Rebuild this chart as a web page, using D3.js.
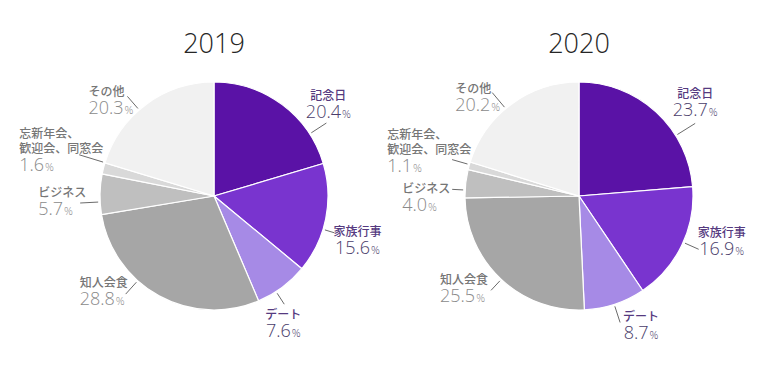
<!DOCTYPE html>
<html>
<head>
<meta charset="utf-8">
<script src="https://cdn.jsdelivr.net/npm/d3@7"></script>
<style>
  body { margin: 0; background: #fff; }
  svg { display: block; font-family: "Noto Sans CJK JP", "Noto Sans", sans-serif; }
  .num { font-family: "Open Sans", "Noto Sans", sans-serif; font-weight: 300; }
</style>
</head>
<body>
<script>
// values (share in %)
const categories = ['記念日', '家族行事', 'デート', '知人会食', 'ビジネス', '忘新年会、歓迎会、同窓会', 'その他']
const categoryLines = [['記念日'], ['家族行事'], ['デート'], ['知人会食'], ['ビジネス'], ['忘新年会、', '歓迎会、同窓会'], ['その他']]
const years = ['2019', '2020']
const values2019 = [20.4, 15.6, 7.6, 28.8, 5.7, 1.6, 20.3]
const values2020 = [23.7, 16.9, 8.7, 25.5, 4.0, 1.1, 20.2]

const sliceColors = ['#5a12a6', '#7934cf', '#a68ae6', '#a6a6a6', '#bfbfbf', '#d9d9d9', '#f1f1f1']

// label placement: leader angle (deg), leader outer radius, text offset from leader end, alignment
const labels2019 = [
    { a: 57, r1: 134, dx: 2, dy: -23, align: 'middle' },
    { a: 107, r1: 126, dx: 23, dy: 3, align: 'middle' },
    { a: 147, r1: 129, dx: -1, dy: 15, align: 'middle' },
    { a: 222, r1: 132, dx: -46, dy: -7, align: 'start' },
    { a: 267, r1: 134, dx: -42, dy: -6, align: 'start' },
    { a: 287, r1: 141, dx: -60, dy: -17, align: 'start' },
    { a: 319, r1: 132, dx: -39, dy: 0, align: 'start' }
]
const labels2020 = [
    { a: 58, r1: 137, dx: 0, dy: -25, align: 'middle' },
    { a: 114, r1: 131, dx: 23, dy: -12, align: 'middle' },
    { a: 162, r1: 133, dx: 21, dy: -1, align: 'middle' },
    { a: 223, r1: 129, dx: -51, dy: -6, align: 'start' },
    { a: 273, r1: 127, dx: -50, dy: 4, align: 'start' },
    { a: 286, r1: 132, dx: -65, dy: -21, align: 'start' },
    { a: 320, r1: 135, dx: -37, dy: 0, align: 'start' }
]

const width = 780, height = 373
const radius = 114
const centersX = [214, 579]
const centerY = 196

const color = d3.scaleOrdinal(categories, sliceColors)
const fmt = d3.format('.1f')

const svg = d3.select('body').append('svg')
    .attr('width', width)
    .attr('height', height)

const pie = d3.pie().sort(null).value(d => d)
const arc = d3.arc().innerRadius(0).outerRadius(radius)

function drawPie(year, values, layout, cx) {
    let g = svg.append('g').attr('transform', `translate(${cx}, ${centerY})`)

    g.append('text')
        .attr('class', 'num')
        .attr('x', 0)
        .attr('y', -143)
        .attr('text-anchor', 'middle')
        .attr('font-size', 27)
        .attr('fill', '#262626')
        .text(year)

    let arcs = pie(values)
    g.selectAll('path.slice')
        .data(arcs)
        .enter()
        .append('path')
        .attr('class', 'slice')
        .attr('d', arc)
        .attr('fill', (d, i) => color(categories[i]))
        .attr('stroke', '#fff')
        .attr('stroke-width', 1.2)

    arcs.forEach((d, i) => {
        let lay = layout[i]
        let ang = lay.a * Math.PI / 180
        let p0 = d3.pointRadial(ang, radius + 2)
        let p1 = d3.pointRadial(ang, lay.r1)
        let purple = i < 3
        let x = p1[0] + lay.dx
        let y = p1[1] + lay.dy

        g.append('line')
            .attr('x1', p0[0]).attr('y1', p0[1])
            .attr('x2', p1[0]).attr('y2', p1[1])
            .attr('stroke', '#6b6b6b')
            .attr('stroke-width', 1)

        // name lines
        categoryLines[i].forEach((line, k) => {
            g.append('text')
                .attr('x', x)
                .attr('y', y + k * 15)
                .attr('text-anchor', lay.align)
                .attr('font-size', 12)
                .attr('font-weight', 500)
                .attr('fill', purple ? '#553a80' : '#767676')
                .text(line)
        })

        // percentage
        let pct = g.append('text')
            .attr('class', 'num')
            .attr('x', x)
            .attr('y', y + (categoryLines[i].length - 1) * 15 + 18)
            .attr('text-anchor', lay.align)
            .attr('fill', purple ? '#4a3d6b' : '#8a8a8a')
        pct.append('tspan').attr('font-size', 18).text(fmt(values[i]))
        pct.append('tspan').attr('font-size', 11).attr('dx', 1).text('%')
    })
}

drawPie(years[0], values2019, labels2019, centersX[0])
drawPie(years[1], values2020, labels2020, centersX[1])
</script>
</body>
</html>
